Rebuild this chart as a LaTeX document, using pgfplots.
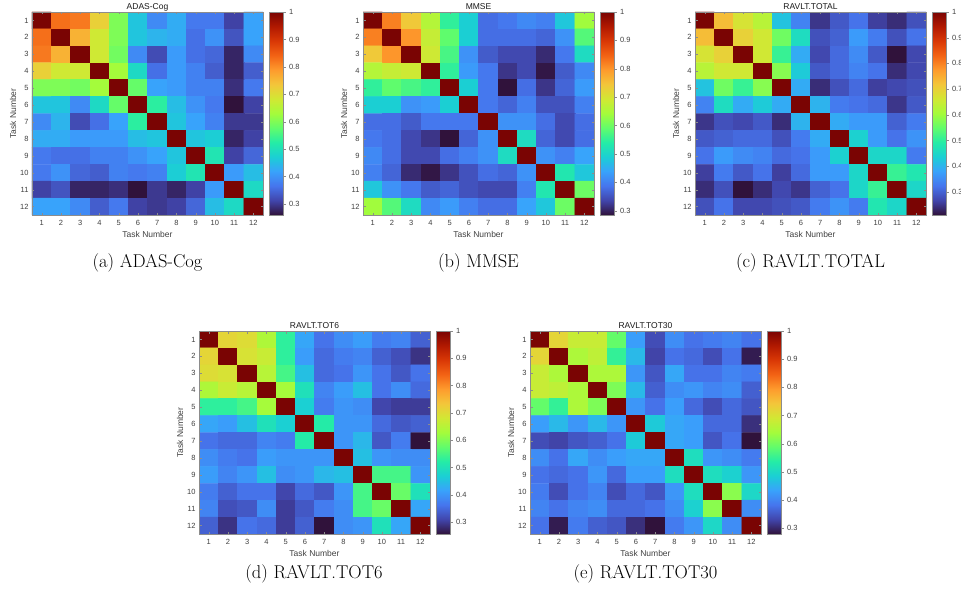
\documentclass[border=0pt]{standalone}
\usepackage{fontspec}
\usepackage{pgfplots}
\usepackage{pgfplotstable}
\pgfplotsset{compat=1.18}
\newfontfamily\arialfont{Liberation Sans}
\newcommand\tickfont{\arialfont\fontsize{7.5}{9}\selectfont}
\newcommand\labfont{\arialfont\fontsize{8.5}{10}\selectfont}
\newcommand\capfont{\fontsize{18.5}{22}\selectfont}

\pgfplotstableread[row sep=\\]{c\\
1\\0.83\\0.82\\0.72\\0.60\\0.46\\0.39\\0.43\\0.37\\0.37\\0.31\\0.42\\
0.83\\1\\0.76\\0.68\\0.60\\0.46\\0.44\\0.43\\0.36\\0.40\\0.33\\0.42\\
0.82\\0.76\\1\\0.68\\0.59\\0.39\\0.32\\0.41\\0.36\\0.35\\0.28\\0.39\\
0.72\\0.68\\0.68\\1\\0.63\\0.49\\0.36\\0.41\\0.38\\0.34\\0.28\\0.34\\
0.60\\0.60\\0.59\\0.63\\1\\0.58\\0.42\\0.41\\0.38\\0.38\\0.29\\0.37\\
0.46\\0.46\\0.39\\0.49\\0.58\\1\\0.53\\0.45\\0.40\\0.37\\0.26\\0.31\\
0.39\\0.44\\0.32\\0.36\\0.42\\0.53\\1\\0.46\\0.42\\0.38\\0.30\\0.30\\
0.43\\0.43\\0.41\\0.41\\0.41\\0.45\\0.46\\1\\0.46\\0.47\\0.28\\0.31\\
0.37\\0.36\\0.36\\0.38\\0.38\\0.40\\0.42\\0.46\\1\\0.51\\0.31\\0.35\\
0.37\\0.40\\0.35\\0.34\\0.38\\0.37\\0.38\\0.47\\0.51\\1\\0.41\\0.45\\
0.31\\0.33\\0.28\\0.28\\0.29\\0.26\\0.30\\0.28\\0.31\\0.41\\1\\0.49\\
0.42\\0.42\\0.39\\0.34\\0.37\\0.31\\0.30\\0.31\\0.35\\0.45\\0.49\\1\\
}\tabA

\pgfplotstableread[row sep=\\]{c\\
1\\0.82\\0.74\\0.66\\0.55\\0.49\\0.38\\0.39\\0.41\\0.40\\0.48\\0.64\\
0.82\\1\\0.80\\0.68\\0.59\\0.49\\0.38\\0.38\\0.38\\0.37\\0.42\\0.58\\
0.74\\0.80\\1\\0.69\\0.57\\0.42\\0.36\\0.34\\0.34\\0.31\\0.39\\0.51\\
0.66\\0.68\\0.69\\1\\0.55\\0.43\\0.39\\0.32\\0.34\\0.29\\0.36\\0.41\\
0.55\\0.59\\0.57\\0.55\\1\\0.49\\0.39\\0.285\\0.38\\0.32\\0.37\\0.43\\
0.49\\0.49\\0.42\\0.43\\0.49\\1\\0.39\\0.37\\0.40\\0.35\\0.35\\0.40\\
0.38\\0.38\\0.36\\0.39\\0.39\\0.39\\1\\0.42\\0.42\\0.38\\0.34\\0.38\\
0.39\\0.38\\0.34\\0.32\\0.285\\0.37\\0.42\\1\\0.51\\0.37\\0.34\\0.38\\
0.41\\0.38\\0.34\\0.34\\0.38\\0.40\\0.42\\0.51\\1\\0.42\\0.40\\0.44\\
0.40\\0.37\\0.31\\0.29\\0.32\\0.35\\0.38\\0.37\\0.42\\1\\0.53\\0.48\\
0.48\\0.42\\0.39\\0.36\\0.37\\0.35\\0.34\\0.34\\0.40\\0.53\\1\\0.60\\
0.64\\0.58\\0.51\\0.41\\0.43\\0.40\\0.38\\0.38\\0.44\\0.48\\0.60\\1\\
}\tabB

\pgfplotstableread[row sep=\\]{c\\
1\\0.73\\0.67\\0.63\\0.42\\0.34\\0.25\\0.29\\0.32\\0.26\\0.24\\0.28\\
0.73\\1\\0.70\\0.66\\0.56\\0.46\\0.28\\0.30\\0.37\\0.33\\0.28\\0.32\\
0.67\\0.70\\1\\0.66\\0.51\\0.39\\0.27\\0.31\\0.35\\0.29\\0.21\\0.27\\
0.63\\0.66\\0.66\\1\\0.58\\0.43\\0.29\\0.31\\0.34\\0.32\\0.24\\0.27\\
0.42\\0.56\\0.51\\0.58\\1\\0.39\\0.24\\0.28\\0.31\\0.26\\0.27\\0.28\\
0.34\\0.46\\0.39\\0.43\\0.39\\1\\0.40\\0.33\\0.32\\0.31\\0.25\\0.29\\
0.25\\0.28\\0.27\\0.29\\0.24\\0.40\\1\\0.39\\0.37\\0.37\\0.30\\0.33\\
0.29\\0.30\\0.31\\0.31\\0.28\\0.33\\0.39\\1\\0.44\\0.37\\0.32\\0.36\\
0.32\\0.37\\0.35\\0.34\\0.31\\0.32\\0.37\\0.44\\1\\0.45\\0.45\\0.33\\
0.26\\0.33\\0.29\\0.32\\0.26\\0.31\\0.37\\0.37\\0.45\\1\\0.51\\0.48\\
0.24\\0.28\\0.21\\0.24\\0.27\\0.25\\0.30\\0.32\\0.45\\0.51\\1\\0.45\\
0.28\\0.32\\0.27\\0.27\\0.28\\0.29\\0.33\\0.36\\0.33\\0.48\\0.45\\1\\
}\tabC

\pgfplotstableread[row sep=\\]{c\\
1\\0.71\\0.70\\0.64\\0.53\\0.42\\0.36\\0.39\\0.41\\0.37\\0.38\\0.34\\
0.71\\1\\0.69\\0.67\\0.53\\0.41\\0.35\\0.37\\0.38\\0.34\\0.32\\0.29\\
0.70\\0.69\\1\\0.65\\0.55\\0.45\\0.35\\0.36\\0.40\\0.36\\0.33\\0.36\\
0.64\\0.67\\0.65\\1\\0.63\\0.50\\0.38\\0.41\\0.45\\0.36\\0.39\\0.35\\
0.53\\0.53\\0.55\\0.63\\1\\0.47\\0.37\\0.40\\0.39\\0.31\\0.30\\0.30\\
0.42\\0.41\\0.45\\0.50\\0.47\\1\\0.52\\0.40\\0.40\\0.35\\0.33\\0.34\\
0.36\\0.35\\0.35\\0.38\\0.37\\0.52\\1\\0.40\\0.44\\0.33\\0.37\\0.256\\
0.39\\0.37\\0.36\\0.41\\0.40\\0.40\\0.40\\1\\0.45\\0.40\\0.39\\0.39\\
0.41\\0.38\\0.40\\0.45\\0.39\\0.40\\0.44\\0.45\\1\\0.55\\0.55\\0.40\\
0.37\\0.34\\0.36\\0.36\\0.31\\0.35\\0.33\\0.40\\0.55\\1\\0.58\\0.50\\
0.38\\0.32\\0.33\\0.39\\0.30\\0.33\\0.37\\0.39\\0.55\\0.58\\1\\0.42\\
0.34\\0.29\\0.36\\0.35\\0.30\\0.34\\0.256\\0.39\\0.40\\0.50\\0.42\\1\\
}\tabD

\pgfplotstableread[row sep=\\]{c\\
1\\0.72\\0.68\\0.68\\0.59\\0.43\\0.34\\0.41\\0.38\\0.39\\0.40\\0.38\\
0.72\\1\\0.65\\0.67\\0.55\\0.46\\0.33\\0.38\\0.37\\0.34\\0.38\\0.29\\
0.68\\0.65\\1\\0.65\\0.65\\0.42\\0.35\\0.44\\0.38\\0.38\\0.40\\0.39\\
0.68\\0.67\\0.65\\1\\0.61\\0.46\\0.36\\0.41\\0.42\\0.40\\0.41\\0.36\\
0.59\\0.55\\0.65\\0.61\\1\\0.42\\0.38\\0.43\\0.37\\0.34\\0.37\\0.35\\
0.43\\0.46\\0.42\\0.46\\0.42\\1\\0.48\\0.44\\0.43\\0.37\\0.37\\0.31\\
0.34\\0.33\\0.35\\0.36\\0.38\\0.48\\1\\0.44\\0.43\\0.35\\0.38\\0.28\\
0.41\\0.38\\0.44\\0.41\\0.43\\0.44\\0.44\\1\\0.51\\0.42\\0.41\\0.39\\
0.38\\0.37\\0.38\\0.42\\0.37\\0.43\\0.43\\0.51\\1\\0.51\\0.49\\0.42\\
0.39\\0.34\\0.38\\0.40\\0.34\\0.37\\0.35\\0.42\\0.51\\1\\0.62\\0.50\\
0.40\\0.38\\0.40\\0.41\\0.37\\0.37\\0.38\\0.41\\0.49\\0.62\\1\\0.41\\
0.38\\0.29\\0.39\\0.36\\0.35\\0.31\\0.28\\0.39\\0.42\\0.50\\0.41\\1\\
}\tabE

\pgfplotsset{
  hm/.style={
    width=231pt, height=203pt, scale only axis, anchor=south west,
    xmin=0.5, xmax=12.5, ymin=0.5, ymax=12.5, y dir=reverse,
    xtick={1,...,12}, ytick={1,...,12},
    tick align=inside, major tick length=2.5pt,
    axis line style={black!45}, tick style={black!45},
    ticklabel style={font=\tickfont, text=black!75},
    xticklabel style={yshift=-2pt},
    /pgf/number format/assume math mode=true,
    xlabel={Task Number}, ylabel={Task Number},
    label style={font=\labfont, text=black!75},
    xlabel style={at={(axis description cs:0.5,-0.096)}, anchor=center},
    ylabel style={at={(axis description cs:-0.082,0.5)}, anchor=center},
    title style={at={(axis description cs:0.5,0.995)}, anchor=center, yshift=0pt, font=\labfont, text=black!90},
    colormap={turbo}{rgb255=(48,18,59) rgb255=(65,69,171) rgb255=(70,117,237) rgb255=(57,162,252) rgb255=(27,207,212) rgb255=(36,236,166) rgb255=(97,252,108) rgb255=(164,252,59) rgb255=(209,232,52) rgb255=(243,198,58) rgb255=(254,155,45) rgb255=(243,99,21) rgb255=(217,56,6) rgb255=(177,25,1) rgb255=(122,4,3)},
    colorbar,
    colorbar style={
      at={(parent axis.north east)}, anchor=north west, xshift=-2pt,
      width=14pt, scale only axis,
      ytick={0.3,0.4,0.5,0.6,0.7,0.8,0.9,1},
      yticklabel style={font=\tickfont, text=black!75},
      /pgf/number format/assume math mode=true,
      axis line style={black!45}, tick style={black!45},
      ytick pos=right, tick align=outside, major tick length=2pt,
    },
    axis on top,
  },
  hmplot/.style={matrix plot*, mesh/cols=12, point meta=explicit},
}

\begin{document}
\begin{tikzpicture}
\useasboundingbox (0,0) rectangle (961pt,603pt);

\begin{axis}[hm, at={(32pt,388pt)}, title={ADAS-Cog}]
\addplot[hmplot] table[x index=0, y index=0, x expr={mod(\coordindex,12)+1}, y expr={floor((\coordindex+0.5)/12)+1}, meta index=0] {\tabA};
\end{axis}

\begin{axis}[hm, at={(363pt,388pt)}, title={MMSE}]
\addplot[hmplot] table[x index=0, y index=0, x expr={mod(\coordindex,12)+1}, y expr={floor((\coordindex+0.5)/12)+1}, meta index=0] {\tabB};
\end{axis}

\begin{axis}[hm, at={(695pt,388pt)}, title={RAVLT.TOTAL}]
\addplot[hmplot] table[x index=0, y index=0, x expr={mod(\coordindex,12)+1}, y expr={floor((\coordindex+0.5)/12)+1}, meta index=0] {\tabC};
\end{axis}

\begin{axis}[hm, at={(199pt,69pt)}, title={RAVLT.TOT6}]
\addplot[hmplot] table[x index=0, y index=0, x expr={mod(\coordindex,12)+1}, y expr={floor((\coordindex+0.5)/12)+1}, meta index=0] {\tabD};
\end{axis}

\begin{axis}[hm, at={(530pt,69pt)}, title={RAVLT.TOT30}]
\addplot[hmplot] table[x index=0, y index=0, x expr={mod(\coordindex,12)+1}, y expr={floor((\coordindex+0.5)/12)+1}, meta index=0] {\tabE};
\end{axis}

\node[font=\capfont] at (147.5pt,340pt) {(a) ADAS-Cog};
\node[font=\capfont] at (478.5pt,340pt) {(b) MMSE};
\node[font=\capfont] at (810.5pt,340pt) {(c) RAVLT.TOTAL};
\node[font=\capfont] at (314pt,29pt) {(d) RAVLT.TOT6};
\node[font=\capfont] at (645.5pt,29pt) {(e) RAVLT.TOT30};
\end{tikzpicture}
\end{document}
